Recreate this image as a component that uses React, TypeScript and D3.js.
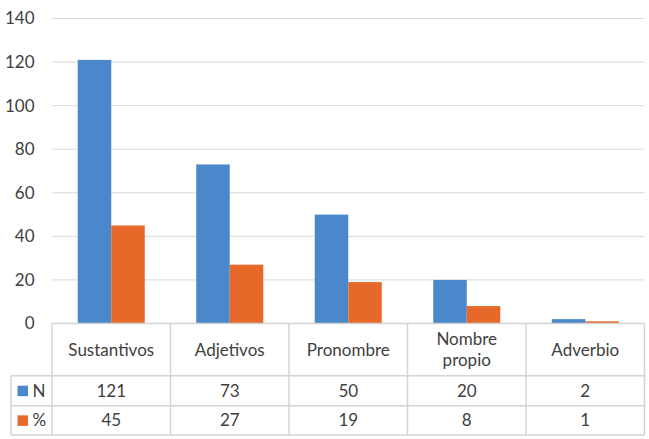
import React from "react";
import * as d3 from "d3";

const categories = ["Sustantivos", "Adjetivos", "Pronombre", "Nombre propio", "Adverbio"];
const categoryLines = [["Sustantivos"], ["Adjetivos"], ["Pronombre"], ["Nombre", "propio"], ["Adverbio"]];
const seriesNames = ["N", "%"];
const valuesN = [121, 73, 50, 20, 2];
const valuesPct = [45, 27, 19, 8, 1];
const yTicks = [0, 20, 40, 60, 80, 100, 120, 140];
const colors = ["#4A87CB", "#E7692A"];

const W = 649;
const H = 439;
const left = 52;
const right = 644.5;
const top = 18.5;
const bottom = 323.5;
const rowBottoms = [375.7, 405.7, 435];
const tableLeft = 11;
const font = "Lato, 'Open Sans', sans-serif";
const textColor = "#404040";
const borderColor = "#D4D4D4";
const fs = 17;

export default function App() {
  const x0 = d3.scaleBand<string>().domain(categories).range([left, right]).paddingInner(0).paddingOuter(0);
  const series = [valuesN, valuesPct];
  const x1 = d3.scaleBand<string>().domain(seriesNames).range([0, x0.bandwidth()]).paddingInner(0).paddingOuter(0.768);
  const y = d3.scaleLinear().domain([0, 140]).range([bottom, top]);

  const colEdges = categories.map((c) => x0(c) as number).concat([right]);

  return (
    <svg width={W} height={H} style={{ position: "absolute", left: 0, top: 0, background: "#fff" }} fontFamily={font}>
      {yTicks.map((t) => (
        <g key={t}>
          {t > 0 && <line x1={left} x2={right} y1={y(t)} y2={y(t)} stroke="#D9D9D9" strokeWidth={1} />}
          <text x={34.5} y={y(t)} dy="0.35em" textAnchor="end" fontSize={fs} fill={textColor}>{t}</text>
        </g>
      ))}
      {categories.map((c, i) =>
        seriesNames.map((s, j) => {
          const v = series[j][i];
          return (
            <rect key={c + s} x={(x0(c) as number) + (x1(s) as number)} y={y(v)} width={x1.bandwidth()} height={y(0) - y(v)} fill={colors[j]} />
          );
        })
      )}
      <g stroke={borderColor} strokeWidth={1.5} fill="none">
        <line x1={left} x2={right} y1={bottom} y2={bottom} />
        {rowBottoms.map((rb, k) => (
          <line key={k} x1={tableLeft} x2={right} y1={rb} y2={rb} />
        ))}
        {colEdges.map((cx, k) => (
          <line key={k} x1={cx} x2={cx} y1={bottom} y2={rowBottoms[2]} />
        ))}
        <line x1={tableLeft} x2={tableLeft} y1={rowBottoms[0]} y2={rowBottoms[2]} />
      </g>
      {categories.map((c, i) => {
        const cx = (x0(c) as number) + x0.bandwidth() / 2;
        const lines = categoryLines[i];
        const midY = (bottom + rowBottoms[0]) / 2;
        return (
          <g key={c}>
            {lines.map((ln, k) => (
              <text key={k} x={cx} y={midY + (k - (lines.length - 1) / 2) * 21.5} dy="0.35em" textAnchor="middle" fontSize={fs} fill={textColor}>{ln}</text>
            ))}
            {series.map((vals, j) => (
              <text key={j} x={cx} y={(rowBottoms[j] + rowBottoms[j + 1]) / 2} dy="0.35em" textAnchor="middle" fontSize={fs} fill={textColor}>{vals[i]}</text>
            ))}
          </g>
        );
      })}
      {seriesNames.map((s, j) => {
        const cy = (rowBottoms[j] + rowBottoms[j + 1]) / 2;
        return (
          <g key={s}>
            <rect x={17.5} y={cy - 5} width={10.5} height={10.5} fill={colors[j]} />
            <text x={32.5} y={cy} dy="0.35em" fontSize={fs} fill={textColor}>{s}</text>
          </g>
        );
      })}
    </svg>
  );
}
